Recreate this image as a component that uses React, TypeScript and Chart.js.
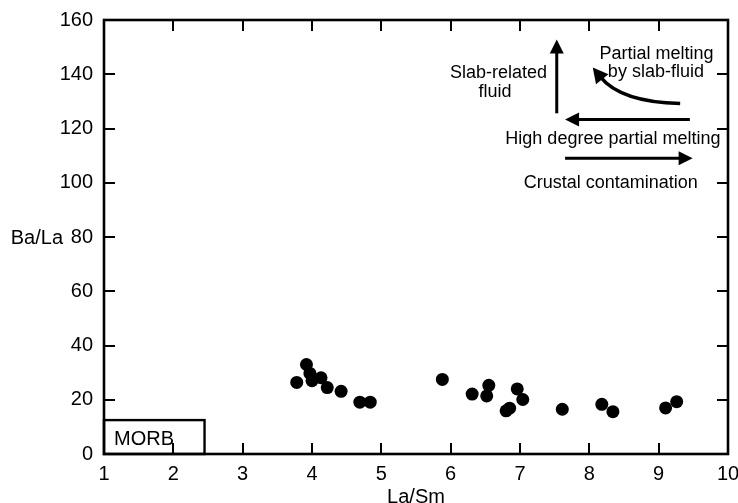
import React, { useEffect, useRef } from "react";
import { Chart, registerables } from "chart.js";

Chart.register(...registerables);

// La/Sm (x) and Ba/La (y) for each sample
const laSm = [3.78, 3.92, 3.97, 4.0, 4.13, 4.22, 4.42, 4.69, 4.84, 5.88, 6.31, 6.52, 6.55, 6.8, 6.85, 6.96, 7.04, 7.61, 8.18, 8.34, 9.1, 9.26];
const baLa = [26.4, 33.0, 29.7, 27.0, 28.1, 24.5, 23.1, 19.1, 19.1, 27.5, 22.1, 21.4, 25.3, 15.9, 16.9, 24.0, 20.1, 16.5, 18.3, 15.6, 17.0, 19.3];

const xTicks = [1, 2, 3, 4, 5, 6, 7, 8, 9, 10];
const yTicks = [0, 20, 40, 60, 80, 100, 120, 140, 160];

const xTitle = "La/Sm";
const yTitle = "Ba/La";

// MORB field: [x0, x1, y0, y1]
const morbField = [1, 2.45, 0, 12.5];
const morbLabel = "MORB";

// annotation arrows (data units): [xStart, yStart, xEnd, yEnd]
const slabFluidArrow = [7.53, 125.6, 7.53, 152.8];
const highDegreeArrow = [9.45, 123.3, 7.65, 123.3];
const crustalArrow = [7.65, 109.0, 9.49, 109.0];
// curved arrow: start, control, tip
const partialMeltCurve = [9.31, 129.2, 8.45, 129.8, 8.05, 142.5];

const annotationTexts: [string, number, number][] = [
  ["Partial melting", 8.97, 147.6],
  ["by slab-fluid", 8.96, 141.0],
  ["Slab-related", 6.69, 140.6],
  ["fluid", 6.64, 133.6],
  ["High degree partial melting", 8.34, 116.1],
  ["Crustal contamination", 8.31, 100.0],
];

const FONT = "'Liberation Sans', Arial, sans-serif";

function arrowHead(ctx: CanvasRenderingContext2D, tx: number, ty: number, dx: number, dy: number, len: number, half: number) {
  const m = Math.hypot(dx, dy);
  const ux = dx / m, uy = dy / m;
  const bx = tx - ux * len, by = ty - uy * len;
  ctx.beginPath();
  ctx.moveTo(tx, ty);
  ctx.lineTo(bx - uy * half, by + ux * half);
  ctx.lineTo(bx + uy * half, by - ux * half);
  ctx.closePath();
  ctx.fill();
}

function straightArrow(ctx: CanvasRenderingContext2D, x1: number, y1: number, x2: number, y2: number) {
  const len = 14, half = 7;
  const dx = x2 - x1, dy = y2 - y1;
  const m = Math.hypot(dx, dy);
  ctx.beginPath();
  ctx.moveTo(x1, y1);
  ctx.lineTo(x2 - (dx / m) * (len - 1), y2 - (dy / m) * (len - 1));
  ctx.stroke();
  arrowHead(ctx, x2, y2, dx, dy, len, half);
}

const decorPlugin = {
  id: "decor",
  afterDraw(chart: any) {
    const ctx: CanvasRenderingContext2D = chart.ctx;
    const xs = chart.scales.x, ys = chart.scales.y;
    const ca = chart.chartArea;
    ctx.save();
    ctx.strokeStyle = "#000";
    ctx.fillStyle = "#000";

    // inward ticks
    const tl = 11;
    ctx.lineWidth = 2;
    ctx.beginPath();
    xTicks.forEach((v) => {
      const p = Math.round(xs.getPixelForValue(v));
      ctx.moveTo(p, ca.bottom); ctx.lineTo(p, ca.bottom - tl);
      ctx.moveTo(p, ca.top); ctx.lineTo(p, ca.top + tl);
    });
    yTicks.forEach((v) => {
      const p = Math.round(ys.getPixelForValue(v));
      ctx.moveTo(ca.left, p); ctx.lineTo(ca.left + tl, p);
      ctx.moveTo(ca.right, p); ctx.lineTo(ca.right - tl, p);
    });
    ctx.stroke();

    // frame
    ctx.lineWidth = 2.6;
    ctx.strokeRect(ca.left, ca.top, ca.right - ca.left, ca.bottom - ca.top);

    // MORB field
    const mx0 = xs.getPixelForValue(morbField[0]), mx1 = xs.getPixelForValue(morbField[1]);
    const my0 = ys.getPixelForValue(morbField[2]), my1 = ys.getPixelForValue(morbField[3]);
    ctx.lineWidth = 2.4;
    ctx.strokeRect(mx0, my1, mx1 - mx0, my0 - my1);
    ctx.font = `20px ${FONT}`;
    ctx.textAlign = "left";
    ctx.textBaseline = "middle";
    ctx.fillText(morbLabel, mx0 + 10, (my0 + my1) / 2 + 2);

    // axis titles
    ctx.font = `20px ${FONT}`;
    ctx.textAlign = "right";
    ctx.fillText(yTitle, 63, ys.getPixelForValue(80) + 1);
    ctx.textAlign = "center";
    ctx.fillText(xTitle, (ca.left + ca.right) / 2, 497);

    // annotation texts
    ctx.font = `18px ${FONT}`;
    ctx.textAlign = "center";
    annotationTexts.forEach(([t, x, y]) => {
      ctx.fillText(t, xs.getPixelForValue(x), ys.getPixelForValue(y));
    });

    // straight arrows
    ctx.lineWidth = 3;
    ctx.lineCap = "butt";
    [slabFluidArrow, highDegreeArrow, crustalArrow].forEach((a) => {
      straightArrow(ctx, xs.getPixelForValue(a[0]), ys.getPixelForValue(a[1]), xs.getPixelForValue(a[2]), ys.getPixelForValue(a[3]));
    });

    // curved arrow
    const sx = xs.getPixelForValue(partialMeltCurve[0]), sy = ys.getPixelForValue(partialMeltCurve[1]);
    const cx = xs.getPixelForValue(partialMeltCurve[2]), cy = ys.getPixelForValue(partialMeltCurve[3]);
    const tx = xs.getPixelForValue(partialMeltCurve[4]), ty = ys.getPixelForValue(partialMeltCurve[5]);
    const dx = tx - cx, dy = ty - cy;
    const m = Math.hypot(dx, dy);
    const ex = tx - (dx / m) * 12, ey = ty - (dy / m) * 12;
    ctx.lineWidth = 3.5;
    ctx.beginPath();
    ctx.moveTo(sx, sy);
    ctx.quadraticCurveTo(cx, cy, ex, ey);
    ctx.stroke();
    arrowHead(ctx, tx, ty, dx, dy, 15, 8);

    ctx.restore();
  },
};

export default function App() {
  const ref = useRef<HTMLCanvasElement | null>(null);
  useEffect(() => {
    if (!ref.current) return;
    const chart = new Chart(ref.current, {
      type: "scatter",
      data: {
        datasets: [
          {
            data: laSm.map((x, i) => ({ x, y: baLa[i] })),
            backgroundColor: "#000",
            borderColor: "#000",
            pointRadius: 6.5,
            pointHoverRadius: 6.5,
            borderWidth: 0,
          },
        ],
      },
      options: {
        responsive: false,
        animation: false,
        events: [],
        layout: { padding: { left: 0, top: 20, right: 10, bottom: 0 } },
        plugins: { legend: { display: false }, tooltip: { enabled: false } },
        scales: {
          x: {
            type: "linear",
            min: 1,
            max: 10,
            grid: { display: false, drawTicks: false },
            border: { display: false },
            afterFit: (s: any) => { s.height = 49; s.paddingLeft = 0; s.paddingRight = 0; },
            afterBuildTicks: (s: any) => { s.ticks = xTicks.map((v) => ({ value: v })); },
            ticks: { color: "#000", font: { family: FONT, size: 20 }, padding: 8, maxRotation: 0 },
          },
          y: {
            type: "linear",
            min: 0,
            max: 160,
            grid: { display: false, drawTicks: false },
            border: { display: false },
            afterFit: (s: any) => { s.width = 104; s.paddingTop = 0; s.paddingBottom = 0; },
            afterBuildTicks: (s: any) => { s.ticks = yTicks.map((v) => ({ value: v })); },
            ticks: { color: "#000", font: { family: FONT, size: 20 }, padding: 11 },
          },
        },
      },
      plugins: [decorPlugin],
    });
    return () => chart.destroy();
  }, []);
  return (
    <div style={{ position: "absolute", left: 0, top: 0, width: 738, height: 503, background: "#fff" }}>
      <canvas ref={ref} width={738} height={503} />
    </div>
  );
}
